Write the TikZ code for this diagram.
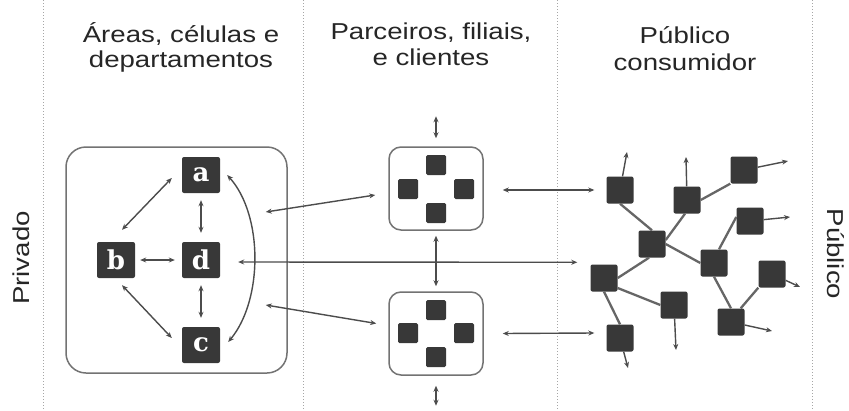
\documentclass[tikz,border=0pt]{standalone}
\usepackage{fontspec}
\setmainfont[FakeStretch=1.2]{Liberation Sans}
\newfontfamily\letterfont{DejaVu Serif}
\usetikzlibrary{arrows.meta,calc}
\begin{document}
\begin{tikzpicture}[x=1pt,y=-1pt,
  sep/.style={draw=black!35, dotted, line width=1pt},
  head/.style={font=\fontsize{23}{26}\selectfont, text=black!85, inner sep=0pt, anchor=base},
  side/.style={font=\fontsize{23}{26}\selectfont, text=black!85, inner sep=0pt},
  bigbox/.style={draw=black!55, line width=1.5pt, rounded corners=20pt, minimum width=221pt, minimum height=226pt, inner sep=0pt},
  midbox/.style={draw=black!55, line width=1.5pt, rounded corners=12pt, minimum width=94pt, minimum height=83pt, inner sep=0pt},
  dsq/.style={fill=black!78, rounded corners=2pt, minimum width=38pt, minimum height=36pt, inner sep=0pt, text=white, font=\letterfont\bfseries\fontsize{26}{26}\selectfont},
  msq/.style={fill=black!78, rounded corners=1.5pt, minimum size=20pt, inner sep=0pt},
  nsq/.style={fill=black!78, rounded corners=2pt, minimum size=27pt, inner sep=0pt},
  conn/.style={draw=black!70, line width=1.4pt, {Stealth[length=6pt,width=5pt]}-{Stealth[length=6pt,width=5pt]}},
  outarr/.style={draw=black!70, line width=1.4pt, -{Stealth[length=6pt,width=5pt]}},
  edge/.style={draw=black!60, line width=2.3pt}
]
\useasboundingbox (0,0) rectangle (849,410);
\fill[white] (0,0) rectangle (849,410);

% separators
\coordinate (s1t) at (43,0);   \coordinate (s1b) at (43,410);
\coordinate (s2t) at (303,0);  \coordinate (s2b) at (303,410);
\coordinate (s3t) at (557,0);  \coordinate (s3b) at (557,410);
\coordinate (s4t) at (812,0);  \coordinate (s4b) at (812,410);
\draw[sep] (s1t) -- (s1b);
\draw[sep] (s2t) -- (s2b);
\draw[sep] (s3t) -- (s3b);
\draw[sep] (s4t) -- (s4b);

% headers
\node[head] (h1a) at (181,42) {Áreas, células e};
\node[head] (h1b) at (181,67) {departamentos};
\node[head] (h2a) at (431,39) {Parceiros, filiais,};
\node[head] (h2b) at (431,65) {e clientes};
\node[head] (h3a) at (685,43) {Público};
\node[head] (h3b) at (685,70) {consumidor};

% side labels
\node[side, rotate=90] (priv) at (21,258) {Privado};
\node[side, rotate=-90] (publ) at (836,254) {Público};

% column 1
\node[bigbox] (box1) at (176.5,260) {};
\node[dsq] (a) at (201,175) {a};
\node[dsq] (d) at (201,260) {d};
\node[dsq] (c) at (201,345) {c};
\node[dsq] (b) at (116,260) {b};

\draw[conn] ($(a.west)+(-10,3)$) -- ($(b.north)+(6,-12)$);
\draw[conn] ($(a.south)+(0,7)$) -- ($(d.north)+(0,-9)$);
\draw[conn] ($(b.east)+(5,0)$) -- ($(d.west)+(-7,0)$);
\draw[conn] ($(d.south)+(0,7)$) -- ($(c.north)+(0,-9)$);
\draw[conn] ($(b.south)+(6,7)$) -- ($(c.west)+(-10,-7)$);
\coordinate (arcS) at ($(a.east)+(7,0)$);
\coordinate (arcE) at ($(c.east)+(8,-3)$);
\draw[conn] (arcS) .. controls ($(arcS)+(36,40)$) and ($(arcE)+(35,-42)$) .. (arcE);

% column 2
\node[midbox] (m1) at (436,188.5) {};
\node[midbox] (m2) at (436,333.5) {};
\node[msq] (m1t) at (436,165) {};
\node[msq] (m1l) at (408,189) {};
\node[msq] (m1r) at (464,189) {};
\node[msq] (m1b) at (436,213) {};
\node[msq] (m2t) at (436,310) {};
\node[msq] (m2l) at (408,333) {};
\node[msq] (m2r) at (464,333) {};
\node[msq] (m2b) at (436,357) {};

\coordinate (vt1) at ($(m1.north)+(0,-30)$);
\coordinate (vt2) at ($(m1.north)+(0,-8)$);
\draw[conn] (vt1) -- (vt2);
\draw[conn] ($(m1.south)+(0,5)$) -- ($(m2.north)+(0,-5)$);
\coordinate (vb1) at ($(m2.south)+(0,10)$);
\coordinate (vb2) at ($(m2.south)+(0,30)$);
\draw[conn] (vb1) -- (vb2);

% column 3 network
\node[nsq] (N1) at (620,190) {};
\node[nsq] (N2) at (687,200) {};
\node[nsq] (N3) at (744,170) {};
\node[nsq] (N4) at (750,221) {};
\node[nsq] (N5) at (652,244) {};
\node[nsq] (N6) at (714,263) {};
\node[nsq] (N7) at (604,278) {};
\node[nsq] (N8) at (674,305) {};
\node[nsq] (N9) at (772,274) {};
\node[nsq] (N10) at (731,322) {};
\node[nsq] (N11) at (620,338) {};

\draw[edge] (N1.south) -- (N5.north);
\draw[edge] ($(N2.south)+(-2,0)$) -- ($(N5.east)+(0,-4)$);
\draw[edge] (N2.east) -- (N3.south west);
\draw[edge] (N5.east) -- (N6.west);
\draw[edge] ($(N6.north)+(5,0)$) -- ($(N4.west)+(0,-4)$);
\draw[edge] ($(N5.south)+(-3,0)$) -- (N7.east);
\draw[edge] ($(N7.east)+(0,10)$) -- (N8.west);
\draw[edge] (N7.south) -- (N11.north);
\draw[edge] (N6.south) -- (N10.north);
\draw[edge] (N9.south west) -- ($(N10.north east)+(-4,0)$);

\coordinate (t1) at (627,152);
\coordinate (t2) at (686,157);
\coordinate (t3) at (788,161);
\coordinate (t4) at (790,217);
\coordinate (t8) at (676,350);
\coordinate (t9) at (800,287);
\coordinate (t10) at (772,331);
\coordinate (t11) at (628,368);
\draw[outarr] (N1) -- (t1);
\draw[outarr] (N2) -- (t2);
\draw[outarr] (N3) -- (t3);
\draw[outarr] (N4) -- (t4);
\draw[outarr] (N8) -- (t8);
\draw[outarr] (N9) -- (t9);
\draw[outarr] (N10) -- (t10);
\draw[outarr] (N11) -- (t11);

% cross-column connectors
\draw[conn] ($(box1.east)+(-22,-48)$) -- ($(m1.west)+(-13,6.5)$);
\draw[conn] ($(d.east)+(18,2)$) -- ($(N7.north west)+(-13,-2)$);
\draw[conn] ($(box1.east)+(-22,45)$) -- ($(m2.west)+(-12,-10)$);
\draw[conn] ($(m1.east)+(19,1.5)$) -- ($(N1.west)+(-12,0)$);
\draw[conn] ($(m2.east)+(19,0)$) -- ($(N11.west)+(-12,-5)$);
\end{tikzpicture}
\end{document}
